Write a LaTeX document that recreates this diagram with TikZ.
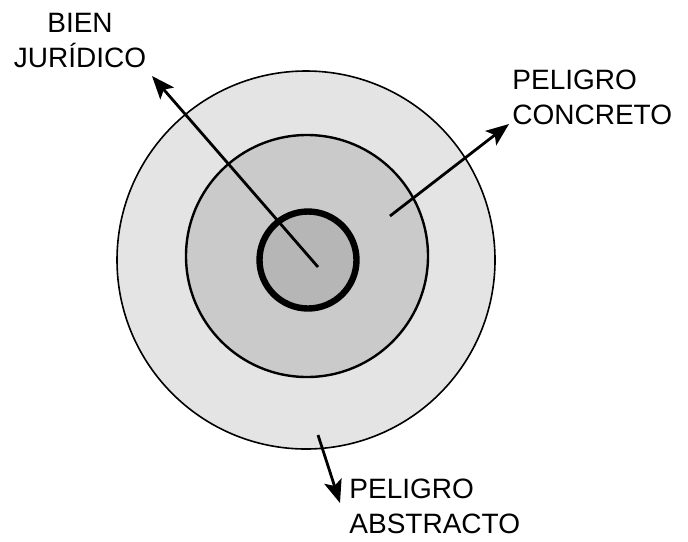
\documentclass[tikz,border=0pt]{standalone}
\usepackage{fontspec}
\setmainfont{Liberation Sans}
\usetikzlibrary{arrows.meta,positioning}
\definecolor{ABc}{RGB}{228,228,228}
\definecolor{COc}{RGB}{202,202,202}
\definecolor{BJc}{RGB}{182,182,182}
\tikzset{
  zona/.style={circle,draw=black,inner sep=0pt},
  rotulo/.style={inner sep=0pt,font=\fontsize{14}{17.5}\selectfont},
  flecha/.style={-{Stealth[length=11.5pt,width=9pt,inset=2.5pt]},line width=1.4pt},
}
\begin{document}
\begin{tikzpicture}[x=0.5pt,y=-0.5pt]
  \useasboundingbox (0,0) rectangle (688,541);
  \fill[white] (0,0) rectangle (688,541);
  % circulos
  \node[zona,fill=ABc,line width=0.8pt,minimum size=189pt] (abs) at (306,260) {};
  \node[zona,fill=COc,line width=1.2pt,minimum size=121pt] (con) at (307,256) {};
  \node[zona,fill=BJc,line width=3.2pt,minimum size=48.5pt] (bj) at (308,260) {};
  % rotulos
  \node[rotulo,align=center,anchor=north] (bien) at (80,13) {BIEN\\JURÍDICO};
  \node[rotulo,align=left,anchor=north west] (pc) at (512,70) {PELIGRO\\CONCRETO};
  \node[rotulo,align=left,anchor=north west] (pa) at (349,479) {PELIGRO\\ABSTRACTO};
  % flechas
  \coordinate (bj0) at (318,267);
  \coordinate (bj1) at (152,76);
  \coordinate (pc0) at (390,216);
  \coordinate (pc1) at (509,124);
  \coordinate (pa0) at (318,435);
  \coordinate (pa1) at (340,503);
  \draw[flecha] (bj0) -- (bj1);
  \draw[flecha] (pc0) -- (pc1);
  \draw[flecha] (pa0) -- (pa1);
\end{tikzpicture}
\end{document}
